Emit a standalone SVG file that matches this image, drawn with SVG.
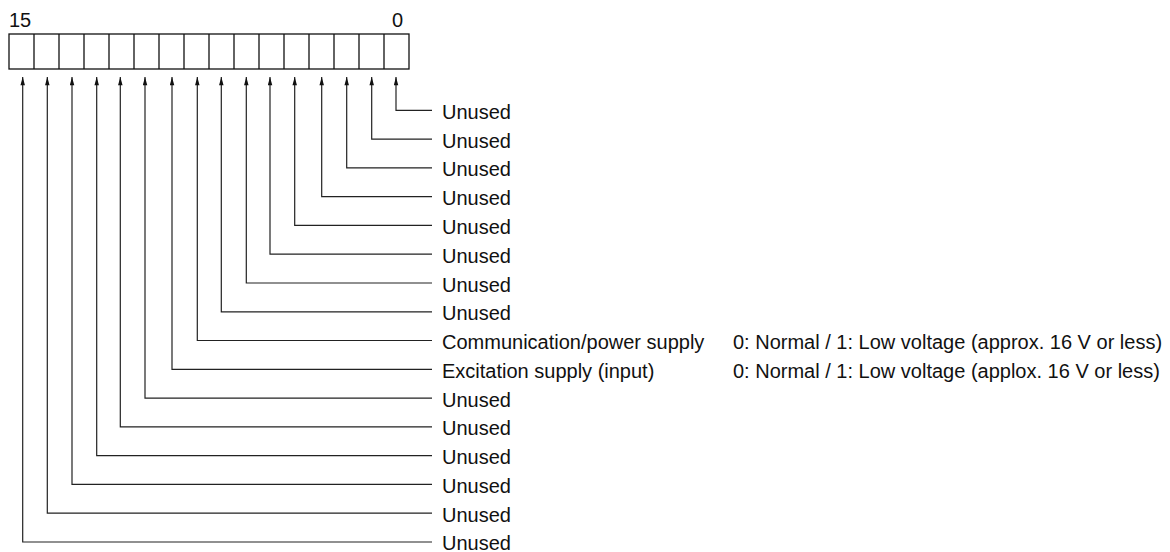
<svg xmlns="http://www.w3.org/2000/svg" width="1170" height="552" viewBox="0 0 1170 552">
<style>
text{font-family:"Liberation Sans",Arial,sans-serif;font-size:20px;fill:#111}
.ln{fill:none;stroke:#222;stroke-width:1.2}
.bx{fill:#fff;stroke:#111;stroke-width:1.3}
</style>
<defs>
<marker id="ah" viewBox="0 0 10 6" refX="10" refY="3" markerWidth="10" markerHeight="5" markerUnits="userSpaceOnUse" orient="auto">
<path d="M0,0.3 L10,3 L0,5.7 Z" fill="#111"/>
</marker>
</defs>
<rect width="1170" height="552" fill="#fff"/>
<g id="register">
<text x="9" y="26.5">15</text>
<text x="392" y="26.5">0</text>
<rect class="bx" x="9" y="34" width="400" height="35"/>
<path class="ln" style="stroke:#111;stroke-width:1.3" d="M34,34V69M59,34V69M84,34V69M109,34V69M134,34V69M159,34V69M184,34V69M209,34V69M234,34V69M259,34V69M284,34V69M309,34V69M334,34V69M359,34V69M384,34V69"/>
</g>
<g id="connectors">
<path class="ln" marker-end="url(#ah)" d="M432,110.3H396V77"/>
<path class="ln" marker-end="url(#ah)" d="M432,139.1H371.7V77"/>
<path class="ln" marker-end="url(#ah)" d="M432,167.9H346.7V77"/>
<path class="ln" marker-end="url(#ah)" d="M432,196.6H321.7V77"/>
<path class="ln" marker-end="url(#ah)" d="M432,225.4H294.7V77"/>
<path class="ln" marker-end="url(#ah)" d="M432,254.2H270V77"/>
<path class="ln" marker-end="url(#ah)" d="M432,283H246.3V77"/>
<path class="ln" marker-end="url(#ah)" d="M432,311.8H221.3V77"/>
<path class="ln" marker-end="url(#ah)" d="M432,340.5H197.3V77"/>
<path class="ln" marker-end="url(#ah)" d="M432,369.3H172V77"/>
<path class="ln" marker-end="url(#ah)" d="M432,398.1H145V77"/>
<path class="ln" marker-end="url(#ah)" d="M432,426.9H120.3V77"/>
<path class="ln" marker-end="url(#ah)" d="M432,455.7H96.7V77"/>
<path class="ln" marker-end="url(#ah)" d="M432,484.4H72V77"/>
<path class="ln" marker-end="url(#ah)" d="M432,513.2H47.3V77"/>
<path class="ln" marker-end="url(#ah)" d="M432,542H22.7V77"/>
</g>
<g id="bit0"><text x="442" y="118.8">Unused</text></g>
<g id="bit1"><text x="442" y="147.6">Unused</text></g>
<g id="bit2"><text x="442" y="176.4">Unused</text></g>
<g id="bit3"><text x="442" y="205.1">Unused</text></g>
<g id="bit4"><text x="442" y="233.9">Unused</text></g>
<g id="bit5"><text x="442" y="262.7">Unused</text></g>
<g id="bit6"><text x="442" y="291.5">Unused</text></g>
<g id="bit7"><text x="442" y="320.3">Unused</text></g>
<g id="bit8"><text x="442" y="349">Communication/power supply</text><text x="733" y="349">0: Normal / 1: Low voltage (approx. 16 V or less)</text></g>
<g id="bit9"><text x="442" y="377.8">Excitation supply (input)</text><text x="733" y="377.8">0: Normal / 1: Low voltage (applox. 16 V or less)</text></g>
<g id="bit10"><text x="442" y="406.6">Unused</text></g>
<g id="bit11"><text x="442" y="435.4">Unused</text></g>
<g id="bit12"><text x="442" y="464.2">Unused</text></g>
<g id="bit13"><text x="442" y="492.9">Unused</text></g>
<g id="bit14"><text x="442" y="521.7">Unused</text></g>
<g id="bit15"><text x="442" y="550.3">Unused</text></g>
</svg>
